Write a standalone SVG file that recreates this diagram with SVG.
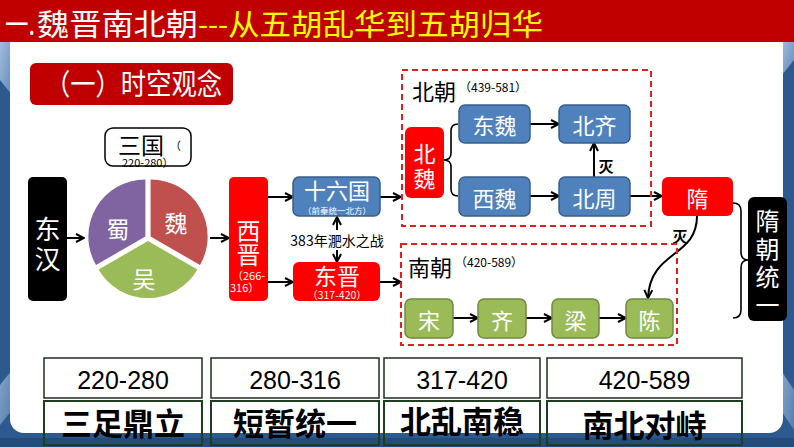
<svg xmlns="http://www.w3.org/2000/svg" width="794" height="447" viewBox="0 0 794 447">
<defs>
<style>
.cjk{font-family:"Noto Sans CJK SC","Noto Sans",sans-serif}
.num{font-family:"Liberation Sans","DejaVu Sans",sans-serif}
.w{fill:#fff}
.k{fill:#000}
.c{text-anchor:middle;dominant-baseline:central}
.blue{fill:#4F81BD;stroke:#385D8A;stroke-width:1.5}
.green{fill:#9BBB59;stroke:#71893F;stroke-width:1.5}
.red{fill:#FF0000}
.blk{fill:#000}
.dash{fill:none;stroke:#E0201E;stroke-width:2;stroke-dasharray:6 4}
.arr{fill:none;stroke:#000;stroke-width:2;marker-end:url(#ah)}
.brace{fill:none;stroke:#000;stroke-width:1.6}
.box1{fill:#fff;stroke:#1E2E1E;stroke-width:1.5}
.box2{fill:none;stroke:#1F3D1F;stroke-width:2}
</style>
<marker id="ah" viewBox="0 0 10 10" refX="9" refY="5" markerWidth="10" markerHeight="10" markerUnits="userSpaceOnUse" orient="auto">
<path d="M1,1 L9,5 L1,9" fill="none" stroke="#000" stroke-width="2"/>
</marker>
<linearGradient id="lg" x1="0" y1="0" x2="1" y2="1">
<stop offset="0" stop-color="#BFD4EE"/>
<stop offset="1" stop-color="#6E97C6"/>
</linearGradient>
</defs>

<g id="background">
<rect x="0" y="0" width="794" height="447" fill="#2C5A8F"/>
<polygon points="0,42 12,42 12,95 0,80" fill="url(#lg)" opacity="0.8"/>
<polygon points="782,42 794,42 794,60 782,75" fill="url(#lg)" opacity="0.8"/>
<polygon points="0,385 12,370 12,410 0,425" fill="url(#lg)" opacity="0.6"/>
<polygon points="782,372 794,390 794,430 782,412" fill="url(#lg)" opacity="0.6"/>
<rect x="0" y="438" width="794" height="9" fill="#244C7A"/>
<rect x="10" y="30" width="773" height="403" rx="14" fill="#fff"/>
<rect x="0" y="0" width="794" height="42" fill="#C00000"/>
</g>

<g id="title">
<text x="5" y="35" class="cjk w" font-size="30" textLength="30" lengthAdjust="spacingAndGlyphs">一.</text>
<text x="37" y="35" class="cjk w" font-size="30" textLength="161" lengthAdjust="spacingAndGlyphs">魏晋南北朝</text>
<text x="198" y="35" class="cjk" fill="#FFFF00" font-size="30" textLength="30" lengthAdjust="spacingAndGlyphs">---</text>
<text x="228" y="35" class="cjk" fill="#FFFF00" font-size="30" textLength="315" lengthAdjust="spacingAndGlyphs">从五胡乱华到五胡归华</text>
</g>

<g id="section-label">
<rect x="30" y="63" width="203" height="42" rx="6" fill="#C00000"/>
<text x="45" y="95" class="cjk w" font-size="29" textLength="177" lengthAdjust="spacingAndGlyphs">（一）时空观念</text>
</g>

<g id="connectors">
<path class="arr" d="M67,238 L84,238"/>
<path class="arr" d="M210,238 L229,238"/>
<path class="arr" d="M268,197 L293,197"/>
<path class="arr" d="M268,282 L293,282"/>
<path class="arr" d="M380,197 L401,197"/>
<path class="arr" d="M380,282 L401,282"/>
<path class="arr" d="M337,230 L337,217"/>
<path class="arr" d="M337,250 L337,262"/>
<path class="arr" d="M530,124 L559,124"/>
<path class="arr" d="M530,196 L559,196"/>
<path class="arr" d="M594,177 L594,143"/>
<path class="arr" d="M630,196 L662,196"/>
<path class="arr" d="M697,216 C697,258 650,250 648,298"/>
<path class="arr" d="M453,318 L478,318"/>
<path class="arr" d="M526,318 L552,318"/>
<path class="arr" d="M599,318 L626,318"/>
<path class="brace" d="M458,124 Q451,124 451,131 L451,153 Q451,160 444,160 Q451,160 451,167 L451,189 Q451,196 458,196"/>
<path class="brace" d="M733,203 Q741,203 741,211 L741,252 Q741,260 748,260 Q741,260 741,268 L741,310 Q741,318 733,318"/>
<text x="606" y="165" class="cjk k c" font-size="15" font-weight="bold">灭</text>
<text x="680" y="235" class="cjk k c" font-size="15" font-weight="bold">灭</text>
<text x="337" y="240" class="cjk k c" font-size="14">383年淝水之战</text>
</g>

<g id="donghan">
<rect x="28" y="177" width="39" height="124" rx="5" class="blk"/>
<text class="cjk w c" font-size="26"><tspan x="47.5" y="227">东</tspan><tspan x="47.5" y="257">汉</tspan></text>
</g>

<g id="sanguo-label">
<rect x="105" y="128" width="86" height="38" rx="8" fill="#fff" stroke="#000" stroke-width="1.5"/>
<text class="cjk k"><tspan x="118" y="154" font-size="23">三国</tspan><tspan x="170" y="150" font-size="11">（</tspan><tspan x="122" y="167" font-size="11">220-280）</tspan></text>
</g>

<g id="sanguo-pie">
<path d="M150.6,236.5 L150.6,179.5 A57,57 0 0 1 200,265 Z" fill="#C0504D"/>
<path d="M148,241 L197.4,269.5 A57,57 0 0 1 98.6,269.5 Z" fill="#9BBB59"/>
<path d="M145.4,236.5 L96,265 A57,57 0 0 1 145.4,179.5 Z" fill="#8064A2"/>
<text x="118" y="228" class="cjk w c" font-size="23">蜀</text>
<text x="176" y="222" class="cjk w c" font-size="23">魏</text>
<text x="144" y="278" class="cjk w c" font-size="23">吴</text>
</g>

<g id="xijin">
<rect x="229" y="177" width="39" height="124" rx="5" class="red"/>
<text class="cjk w"><tspan x="236.5" y="239.5" font-size="24">西</tspan><tspan x="236.5" y="263.5" font-size="24">晋</tspan><tspan x="232" y="280" font-size="11">（266-</tspan><tspan x="230" y="292" font-size="11">316）</tspan></text>
</g>

<g id="shiliuguo">
<rect x="293" y="177" width="87" height="39" rx="6" class="blue"/>
<text class="cjk w" text-anchor="middle"><tspan x="337" y="199" font-size="22">十六国</tspan><tspan x="337" y="213.5" font-size="8.5">（前秦统一北方）</tspan></text>
</g>

<g id="dongjin">
<rect x="293" y="262" width="87" height="39" rx="6" class="red"/>
<text class="cjk w" text-anchor="middle"><tspan x="337" y="284.5" font-size="23">东晋</tspan><tspan x="337" y="299" font-size="10.5">（317-420）</tspan></text>
</g>

<g id="beichao">
<rect x="402" y="70" width="249" height="156" class="dash"/>
<text class="cjk k"><tspan x="412" y="100" font-size="22">北朝</tspan><tspan x="459" y="92" font-size="12">（439-581）</tspan></text>
</g>

<g id="beiwei">
<rect x="405" y="127" width="39" height="71" rx="6" class="red"/>
<text class="cjk w c" font-size="22"><tspan x="424.5" y="152">北</tspan><tspan x="424.5" y="177">魏</tspan></text>
</g>

<g id="dongwei">
<rect x="459" y="105" width="71" height="38" rx="6" class="blue"/>
<text x="494.5" y="124" class="cjk w c" font-size="22">东魏</text>
</g>

<g id="beiqi">
<rect x="559" y="105" width="71" height="38" rx="6" class="blue"/>
<text x="594.5" y="124" class="cjk w c" font-size="22">北齐</text>
</g>

<g id="xiwei">
<rect x="459" y="177" width="71" height="39" rx="6" class="blue"/>
<text x="494.5" y="196.5" class="cjk w c" font-size="22">西魏</text>
</g>

<g id="beizhou">
<rect x="559" y="177" width="71" height="39" rx="6" class="blue"/>
<text x="594.5" y="196.5" class="cjk w c" font-size="22">北周</text>
</g>

<g id="sui">
<rect x="662" y="177" width="71" height="39" rx="6" class="red"/>
<text x="697.5" y="196.5" class="cjk w c" font-size="22">隋</text>
</g>

<g id="nanchao">
<rect x="401" y="244" width="276" height="101" class="dash"/>
<text class="cjk k"><tspan x="408" y="276" font-size="22">南朝</tspan><tspan x="455" y="267" font-size="12">（420-589）</tspan></text>
</g>

<g id="song">
<rect x="405" y="299" width="48" height="39" rx="6" class="green"/>
<text x="429" y="318.5" class="cjk w c" font-size="22">宋</text>
</g>
<g id="qi">
<rect x="478" y="299" width="48" height="39" rx="6" class="green"/>
<text x="502" y="318.5" class="cjk w c" font-size="22">齐</text>
</g>
<g id="liang">
<rect x="552" y="299" width="47" height="39" rx="6" class="green"/>
<text x="575.5" y="318.5" class="cjk w c" font-size="22">梁</text>
</g>
<g id="chen">
<rect x="626" y="299" width="47" height="39" rx="6" class="green"/>
<text x="649.5" y="318.5" class="cjk w c" font-size="22">陈</text>
</g>

<g id="sui-unify">
<rect x="748" y="197" width="39" height="124" rx="6" class="blk"/>
<text class="cjk w c" font-size="24"><tspan x="767.5" y="219">隋</tspan><tspan x="767.5" y="247">朝</tspan><tspan x="767.5" y="275">统</tspan><tspan x="767.5" y="303">一</tspan></text>
</g>

<g id="timeline">
<rect x="44" y="358" width="158" height="40" class="box1"/>
<rect x="211" y="358" width="168" height="40" class="box1"/>
<rect x="384" y="358" width="156" height="40" class="box1"/>
<rect x="547" y="358" width="195" height="40" class="box1"/>
<text x="123" y="389" class="num k" font-size="25" text-anchor="middle">220-280</text>
<text x="295" y="389" class="num k" font-size="25" text-anchor="middle">280-316</text>
<text x="462" y="389" class="num k" font-size="25" text-anchor="middle">317-420</text>
<text x="644.5" y="389" class="num k" font-size="25" text-anchor="middle">420-589</text>
<rect x="44" y="401" width="158" height="44" class="box2"/>
<rect x="211" y="401" width="168" height="44" class="box2"/>
<rect x="384" y="401" width="156" height="44" class="box2"/>
<rect x="547" y="401" width="195" height="44" class="box2"/>
<text x="123" y="435" class="cjk k" font-size="31" font-weight="bold" text-anchor="middle">三足鼎立</text>
<text x="295" y="435" class="cjk k" font-size="31" font-weight="bold" text-anchor="middle">短暂统一</text>
<text x="462" y="433" class="cjk k" font-size="31" font-weight="bold" text-anchor="middle">北乱南稳</text>
<text x="644.5" y="437" class="cjk k" font-size="31" font-weight="bold" text-anchor="middle">南北对峙</text>
</g>
</svg>
